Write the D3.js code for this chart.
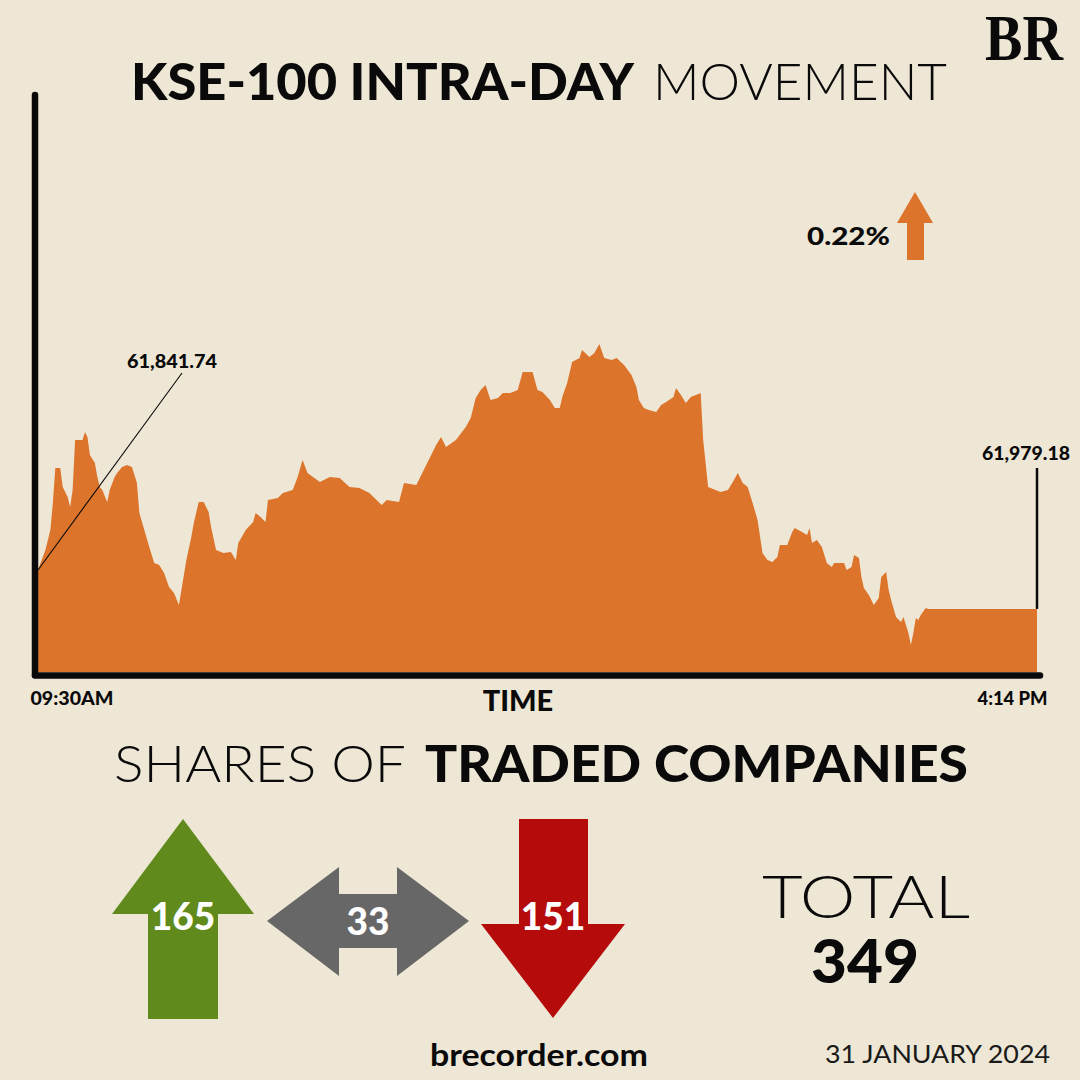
<!DOCTYPE html>
<html>
<head>
<meta charset="utf-8">
<script src="https://cdn.jsdelivr.net/npm/d3@7"></script>
<style>
  html, body { margin: 0; padding: 0; background: #eee7d6; }
  svg { display: block; }
</style>
</head>
<body>
<svg id="chart" width="1080" height="1080"></svg>
<script>
// ---------- DATA ----------
// minutes after 09:30 open
const minutes = [0,3,5,6,7,9,10,12,13,14,15,18,19,20,21,23,24,25,26,28,29,31,32,34,36,38,40,41,43,45,47,49,51,53,55,57,58,60,62,63,65,67,69,70,72,75,78,80,81,84,87,88,90,92,93,97,99,103,105,107,109,114,118,122,126,130,134,139,141,146,148,153,155,158,161,163,165,169,173,175,177,179,181,183,186,188,191,194,196,200,202,204,207,209,211,212,214,216,219,220,223,225,227,229,232,234,237,240,242,243,245,247,250,252,254,257,258,260,262,264,268,269,271,274,276,279,281,283,285,287,289,291,293,295,297,299,300,303,305,306,309,311,312,313,315,317,319,321,322,326,327,329,330,332,333,334,336,337,338,340,341,343,344,345,347,349,350,351,352,353,354,355,356,357,359,360,404];
// KSE-100 index level
const values = [62057,62097,62137,62191,62261,62261,62223,62203,62183,62217,62317,62317,62333,62323,62287,62271,62243,62223,62217,62193,62217,62243,62251,62263,62267,62263,62231,62171,62137,62103,62071,62067,62051,62023,62011,61987,62017,62077,62123,62151,62193,62193,62173,62143,62097,62091,62093,62077,62111,62137,62153,62171,62163,62153,62197,62201,62211,62217,62243,62277,62251,62233,62243,62241,62223,62221,62211,62187,62197,62193,62231,62227,62247,62277,62307,62323,62303,62317,62343,62361,62401,62417,62427,62397,62401,62411,62411,62417,62453,62453,62417,62413,62397,62381,62381,62403,62431,62473,62481,62497,62483,62491,62509,62481,62477,62481,62467,62447,62423,62397,62381,62377,62373,62387,62393,62403,62421,62407,62391,62403,62411,62317,62223,62217,62213,62217,62233,62251,62231,62223,62191,62157,62091,62077,62073,62083,62107,62107,62133,62141,62133,62127,62141,62111,62117,62103,62071,62063,62071,62071,62057,62063,62087,62081,62043,62021,62007,61997,61987,62001,62043,62053,62017,61997,61963,61953,61963,61947,61931,61907,61931,61961,61957,61967,61981,61979.18,61979.18];
const prevClose = 61841.74;
const closeValue = 61979.18;
const changePct = "0.22%";
const xTickValues = [0, 404];
const xTickLabels = ["09:30AM", "4:14 PM"];
const breadthLabels = ["up", "unchanged", "down"];
const breadthValues = [165, 33, 151];
const totalCompanies = 349;
const dateLabel = "31 JANUARY 2024";

// ---------- DRAW ----------
const svg = d3.select("#chart");
const BG = "#eee7d6", ORANGE = "#dc742b", INK = "#0a0a0a";
svg.append("rect").attr("width", 1080).attr("height", 1080).attr("fill", BG);

const x = d3.scaleLinear().domain([0, 404]).range([38, 1037]);
const y = d3.scaleLinear().domain([61853, 62523]).range([672, 337]);

const data = minutes.map((m, i) => ({ m, v: values[i] }));

// area
const area = d3.area().x(d => x(d.m)).y0(672).y1(d => y(d.v)).curve(d3.curveLinear);
svg.append("path").datum(data).attr("d", area).attr("fill", ORANGE);

// axes lines (thick, round caps)
svg.append("line").attr("x1", 35).attr("x2", 35).attr("y1", 95).attr("y2", 675)
  .attr("stroke", INK).attr("stroke-width", 6.5).attr("stroke-linecap", "round");
svg.append("line").attr("x1", 35).attr("x2", 1040).attr("y1", 675.5).attr("y2", 675.5)
  .attr("stroke", INK).attr("stroke-width", 6.5).attr("stroke-linecap", "round");

// x axis tick labels
const xAxis = d3.axisBottom(x).tickValues(xTickValues)
  .tickFormat((d, i) => xTickLabels[i]).tickSize(0).tickPadding(0);
const gx = svg.append("g").attr("transform", "translate(0,705)").call(xAxis);
gx.select(".domain").remove();
gx.selectAll("text")
  .attr("y", 0).attr("dy", 0)
  .attr("font-family", "Lato").attr("font-weight", 900).attr("font-size", 18)
  .attr("fill", INK)
  .attr("textLength", (d, i) => i === 0 ? 83 : 70)
  .attr("lengthAdjust", "spacingAndGlyphs")
  .attr("text-anchor", (d, i) => i === 0 ? "start" : "end")
  .attr("dx", (d, i) => i === 0 ? -8 : 10);

svg.append("text").attr("x", 518).attr("y", 711).attr("text-anchor", "middle")
  .attr("font-family", "Lato").attr("font-weight", 900).attr("font-size", 29)
  .attr("fill", INK).text("TIME");

// annotation: previous close
const sx = x(0), sy = y(values[0]);
svg.append("line").attr("x1", sx).attr("y1", sy).attr("x2", 182).attr("y2", 373)
  .attr("stroke", INK).attr("stroke-width", 1.1);
svg.append("text").attr("x", 172).attr("y", 368).attr("text-anchor", "middle")
  .attr("font-family", "Lato").attr("font-weight", 900).attr("font-size", 19)
  .attr("textLength", 90).attr("lengthAdjust", "spacingAndGlyphs")
  .attr("fill", INK).text(d3.format(",.2f")(prevClose));

// annotation: close
const ex = x(404), ey = y(closeValue);
svg.append("line").attr("x1", ex).attr("x2", ex).attr("y1", 468).attr("y2", ey)
  .attr("stroke", INK).attr("stroke-width", 2.5);
svg.append("text").attr("x", 1026).attr("y", 460).attr("text-anchor", "middle")
  .attr("font-family", "Lato").attr("font-weight", 900).attr("font-size", 19)
  .attr("textLength", 88).attr("lengthAdjust", "spacingAndGlyphs")
  .attr("fill", INK).text(d3.format(",.2f")(closeValue));

// change %
svg.append("text").attr("x", 807).attr("y", 245)
  .attr("font-family", "Lato").attr("font-weight", 900).attr("font-size", 24)
  .attr("textLength", 83).attr("lengthAdjust", "spacingAndGlyphs")
  .attr("fill", INK).text(changePct);
svg.append("path")
  .attr("d", "M915,192 L933,223 L924,223 L924,260 L907,260 L907,223 L897,223 Z")
  .attr("fill", ORANGE);

// title
svg.append("text").attr("x", 131).attr("y", 100)
  .attr("font-family", "Lato").attr("font-weight", 900).attr("font-size", 52)
  .attr("textLength", 503).attr("lengthAdjust", "spacingAndGlyphs")
  .attr("fill", INK).text("KSE-100 INTRA-DAY");
svg.append("text").attr("x", 653).attr("y", 100)
  .attr("font-family", "Lato").attr("font-weight", 300).attr("font-size", 52)
  .attr("textLength", 294).attr("lengthAdjust", "spacingAndGlyphs")
  .attr("fill", INK).text("MOVEMENT");

// BR logo
svg.append("text").attr("x", 985).attr("y", 60)
  .attr("font-family", "Liberation Serif").attr("font-weight", 700).attr("font-size", 66)
  .attr("textLength", 78).attr("lengthAdjust", "spacingAndGlyphs")
  .attr("fill", INK).text("BR");

// subtitle
svg.append("text").attr("x", 114).attr("y", 782)
  .attr("font-family", "Lato").attr("font-weight", 300).attr("font-size", 51)
  .attr("textLength", 292).attr("lengthAdjust", "spacingAndGlyphs")
  .attr("fill", INK).text("SHARES OF");
svg.append("text").attr("x", 425).attr("y", 782)
  .attr("font-family", "Lato").attr("font-weight", 900).attr("font-size", 51)
  .attr("textLength", 543).attr("lengthAdjust", "spacingAndGlyphs")
  .attr("fill", INK).text("TRADED COMPANIES");

// breadth arrows
const arrows = [
  { color: "#608b1c", d: "M183,819 L254,914 L218,914 L218,1019 L148,1019 L148,914 L112,914 Z", tx: 183, ty: 930 },
  { color: "#676767", d: "M267,921 L339,867 L339,894 L397,894 L397,867 L469,921 L397,976 L397,948 L339,948 L339,976 Z", tx: 368, ty: 935 },
  { color: "#b50b0b", d: "M519,819 L588,819 L588,924 L625,924 L553,1018 L481,924 L519,924 Z", tx: 553, ty: 930 }
];
arrows.forEach((a, i) => {
  svg.append("path").attr("d", a.d).attr("fill", a.color);
  svg.append("text").attr("x", a.tx).attr("y", a.ty).attr("text-anchor", "middle")
    .attr("font-family", "Lato").attr("font-weight", 900).attr("font-size", 37)
    .attr("fill", "#ffffff").text(breadthValues[i]);
});

// total
svg.append("text").attr("x", 762).attr("y", 918)
  .attr("font-family", "Lato").attr("font-weight", 300).attr("font-size", 60)
  .attr("textLength", 208).attr("lengthAdjust", "spacingAndGlyphs")
  .attr("fill", INK).text("TOTAL");
svg.append("text").attr("x", 811).attr("y", 983)
  .attr("font-family", "Lato").attr("font-weight", 900).attr("font-size", 60)
  .attr("textLength", 108).attr("lengthAdjust", "spacingAndGlyphs")
  .attr("fill", INK).text(totalCompanies);

// footer
svg.append("text").attr("x", 539).attr("y", 1066).attr("text-anchor", "middle")
  .attr("font-family", "Lato").attr("font-weight", 700).attr("font-size", 31)
  .attr("textLength", 218).attr("lengthAdjust", "spacingAndGlyphs")
  .attr("fill", INK).text("brecorder.com");
svg.append("text").attr("x", 825).attr("y", 1063)
  .attr("font-family", "Lato").attr("font-weight", 400).attr("font-size", 25)
  .attr("textLength", 225).attr("lengthAdjust", "spacingAndGlyphs")
  .attr("fill", "#1a1a1a").text(dateLabel);
</script>
</body>
</html>
